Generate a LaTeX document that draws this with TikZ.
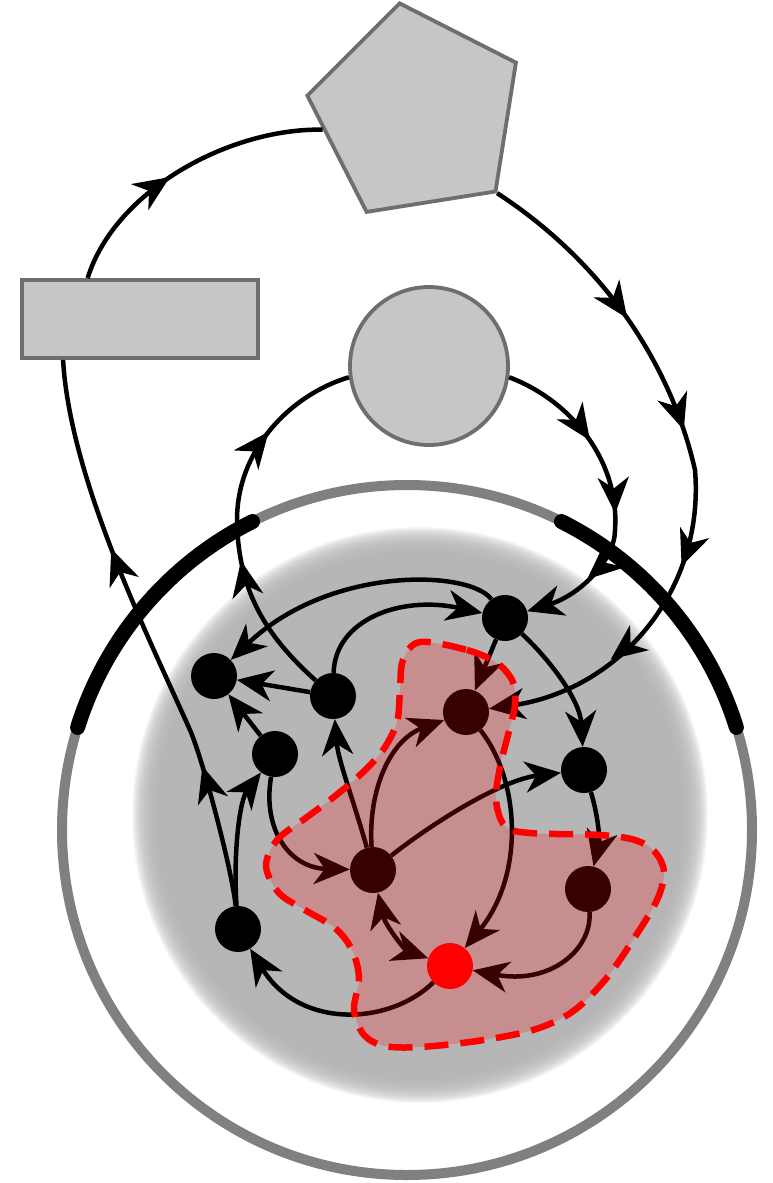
\documentclass[tikz,border=0pt]{standalone}
\usetikzlibrary{arrows.meta,shapes.geometric,decorations.markings}
\definecolor{shapefill}{RGB}{198,198,198}
\definecolor{shapedraw}{RGB}{110,110,110}
\definecolor{discgray}{RGB}{182,182,182}
\definecolor{ringgray}{RGB}{128,128,128}
\begin{document}
\begin{tikzpicture}[x=1pt,y=-1pt,
  conn/.style={line width=4.5pt, draw=black},
  ea/.style={-{Stealth[length=36pt,width=31pt,inset=11pt]}},
  ba/.style={{Stealth[length=36pt,width=31pt,inset=11pt]}-{Stealth[length=36pt,width=31pt,inset=11pt]}},
  am/.style={postaction={decorate,decoration={markings,mark=at position #1 with {\arrow{Stealth[length=36pt,width=31pt,inset=11pt]}}}}},
  dot/.style={circle, fill=black, minimum size=46pt, inner sep=0pt},
  gshape/.style={fill=shapefill, draw=shapedraw, line width=3.8pt, inner sep=0pt},
]
\fill[white] (0,0) rectangle (772,1183);
\useasboundingbox (0,0) rectangle (772,1183);

% blurred gray disc
\fill[discgray] (420,815) circle[radius=262];
\foreach \r in {263,264,...,288} \fill[discgray, fill opacity=0.1] (420,815) circle[radius=\r];

% outer ring
\draw[ringgray, line width=10pt] (407,830) circle[radius=345];
\draw[black, line width=15pt, line cap=round] (407,830) ++(-162.7:345) arc[start angle=-162.7, end angle=-116.6, radius=345];
\draw[black, line width=15pt, line cap=round] (407,830) ++(-63.4:345) arc[start angle=-63.4, end angle=-17.3, radius=345];

% top shapes
\node[gshape, rectangle, minimum width=236pt, minimum height=78pt] (rect) at (140,319) {};
\node[gshape, regular polygon, regular polygon sides=5, minimum size=222pt, rotate=9] (pent) at (417,113) {};
\node[gshape, circle, minimum size=158pt] (circ) at (429,366) {};

% graph nodes
\node[dot] (A) at (505,618) {};
\node[dot] (B) at (214,676) {};
\node[dot] (C) at (333,696) {};
\node[dot] (D) at (466,712) {};
\node[dot] (E) at (275,754) {};
\node[dot] (F) at (584,770) {};
\node[dot] (G) at (373,870) {};
\node[dot] (H) at (588,889) {};
\node[dot] (I) at (238,929) {};
\node[dot, fill=red] (J) at (450,966) {};

% outer connectors
\draw[conn, am=0.45] (rect.142) .. controls (115,190) and (230,128) .. (pent.181);
\draw[conn, ea, am=0.26, am=0.44, am=0.64, am=0.81] (pent.306) .. controls (600,260) and (670,360) .. (695,470) .. controls (705,590) and (620,690) .. (D);
\draw[conn, ea, am=0.32, am=0.56, am=0.79] (circ.352) .. controls (570,400) and (620,460) .. (615,530) .. controls (615,560) and (580,595) .. (A);
\draw[conn, am=0.38, am=0.74] (C) .. controls (265,635) and (238,590) .. (237,520) .. controls (237,450) and (290,395) .. (circ.188);
\draw[conn, am=0.25, am=0.66] (I) .. controls (232,870) and (203,760) .. (190,730) .. controls (150,640) and (70,480) .. (rect.208);

% inner connectors
\draw[conn,ea] (I) .. controls (233,850) and (240,800) .. (E);
\draw[conn,ea] (E) .. controls (262,830) and (290,868) .. (G);
\draw[conn,ea] (G) .. controls (355,805) and (338,760) .. (C);
\draw[conn,ea] (G) .. controls (368,790) and (390,740) .. (D);
\draw[conn,ea] (G) .. controls (430,825) and (500,780) .. (F);
\draw[conn,ea] (D) .. controls (520,780) and (525,875) .. (J);
\draw[conn,ba] (G) .. controls (385,925) and (405,950) .. (J);
\draw[conn,ea] (H) .. controls (592,950) and (550,985) .. (J);
\draw[conn,ea] (F) .. controls (598,815) and (600,840) .. (H);
\draw[conn,ea] (A) .. controls (550,660) and (580,700) .. (F);
\draw[conn,ea] (A) -- (D);
\draw[conn,ea] (C) -- (B);
\draw[conn,ea] (E) -- (B);
\draw[conn,ea] (A) .. controls (470,570) and (330,565) .. (B);
\draw[conn,ea] (C) .. controls (335,620) and (400,595) .. (A);
\draw[conn,ea] (J) .. controls (390,1025) and (300,1030) .. (I);

% red region overlay
\path[fill=red, fill opacity=0.22, draw=red, draw opacity=1, line width=6.5pt, dash pattern=on 24pt off 12pt]
  plot[smooth cycle, tension=0.55] coordinates {
  (420,642) (467,650) (497,663) (513,682) (515,705) (508,735) (500,767) (496,800)
  (505,826) (530,833) (600,835) (635,840) (655,852) (664,872) (657,900) (633,940)
  (605,980) (572,1012) (533,1030) (477,1041) (420,1047) (385,1046) (364,1035) (354,1010)
  (359,978) (352,950) (335,928) (305,910) (279,893) (266,866) (277,840) (303,820)
  (330,800) (360,775) (383,750) (397,722) (400,690) (403,660)};
\end{tikzpicture}
\end{document}
